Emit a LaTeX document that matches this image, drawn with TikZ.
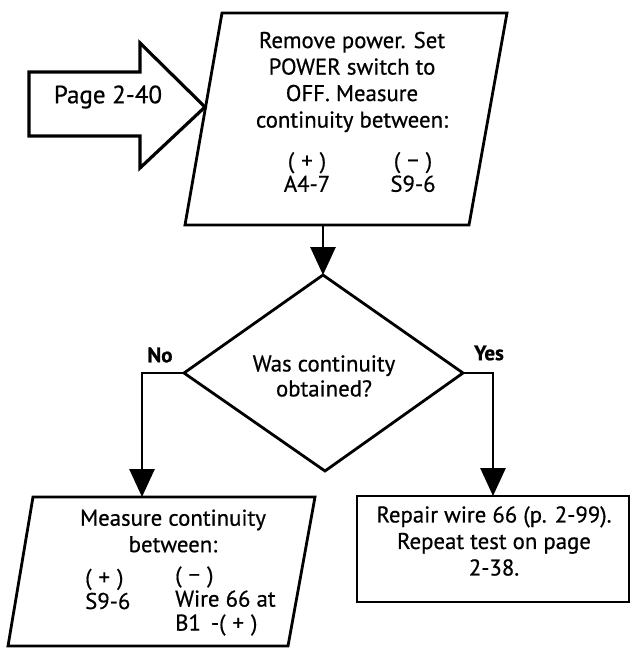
\documentclass[tikz,border=0pt]{standalone}
\usepackage{fontspec}
\setmainfont{PT Sans}[FakeBold=0.6]
\usetikzlibrary{arrows.meta}
\newcommand{\pp}[1]{(\kern7pt#1\kern7pt)}
\begin{document}
\begin{tikzpicture}[x=1pt,y=-1pt,
  box/.style={line width=2.8pt, line join=miter},
  conn/.style={line width=2.8pt, -{Triangle[width=25pt,length=28pt]}},
  txt/.style={align=center, font=\fontsize{22.8}{26.5}\selectfont, inner sep=0pt},
  ltxt/.style={align=left, anchor=west, font=\fontsize{22.8}{24}\selectfont, inner sep=0pt},
  lbl/.style={font=\bfseries\fontsize{21}{22}\selectfont, inner sep=0pt}]
\useasboundingbox (0,0) rectangle (631,652);

% top parallelogram
\coordinate (tA) at (222,13);
\coordinate (tB) at (507,13);
\coordinate (tC) at (469,225);
\coordinate (tD) at (185,225);
\draw[box] (tA)--(tB)--(tC)--(tD)--cycle;
\coordinate (tOut) at (323,225);

% page arrow
\draw[line width=3.2pt, line join=miter] (29,72)--(140,72)--(140,43)--(205,107)--(140,168)--(140,136)--(29,136)--cycle;
\node[inner sep=0pt, font=\fontsize{25}{28}\selectfont] (pg) at (108,97) {Page 2-40};

% top text
\node[txt] (ttext) at (352,82) {Remove power. Set\\POWER switch to\\OFF. Measure\\continuity between:};
\node[txt, font=\fontsize{22.8}{23.5}\selectfont] (tplus) at (307,172) {\pp{+}\\A4-7};
\node[txt, font=\fontsize{22.8}{23.5}\selectfont] (tminus) at (413,172) {\pp{−}\\S9-6};

% diamond
\coordinate (dT) at (323,275);
\coordinate (dL) at (184,373);
\coordinate (dR) at (463,373);
\coordinate (dB) at (325,471);
\draw[box] (dT)--(dR)--(dB)--(dL)--cycle;
\node[txt, font=\fontsize{22.8}{25}\selectfont] (dtext) at (324,376) {Was continuity\\obtained?};

\draw[conn] (tOut) -- (dT);

% labels
\node[lbl] (no) at (160,355) {No};
\node[lbl] (yes) at (489,353) {Yes};

% left bottom parallelogram
\coordinate (lA) at (33,497);
\coordinate (lB) at (315,497);
\coordinate (lC) at (288,646);
\coordinate (lD) at (8,646);
\draw[box] (lA)--(lB)--(lC)--(lD)--cycle;
\coordinate (lIn) at (142,497);

% right box
\coordinate (rA) at (357,496);
\coordinate (rC) at (629,602);
\draw[box] (rA) rectangle (rC);
\coordinate (rIn) at (493,496);

\draw[conn] (dL) -| (lIn);
\draw[conn] (dR) -| (rIn);

% left box text
\node[txt] (ltext) at (173,531) {Measure continuity\\between:};
\node[ltxt] (lplus) at (85,589) {\pp{+}\\S9-6};
\node[ltxt] (lminus) at (175,601) {\pp{−}\\Wire 66 at\\B1\kern10pt-\pp{+}};

% right box text
\node[txt] (rtext) at (494,541) {Repair wire 66 (p. 2-99).\\Repeat test on page\\2-38.};
\end{tikzpicture}
\end{document}
